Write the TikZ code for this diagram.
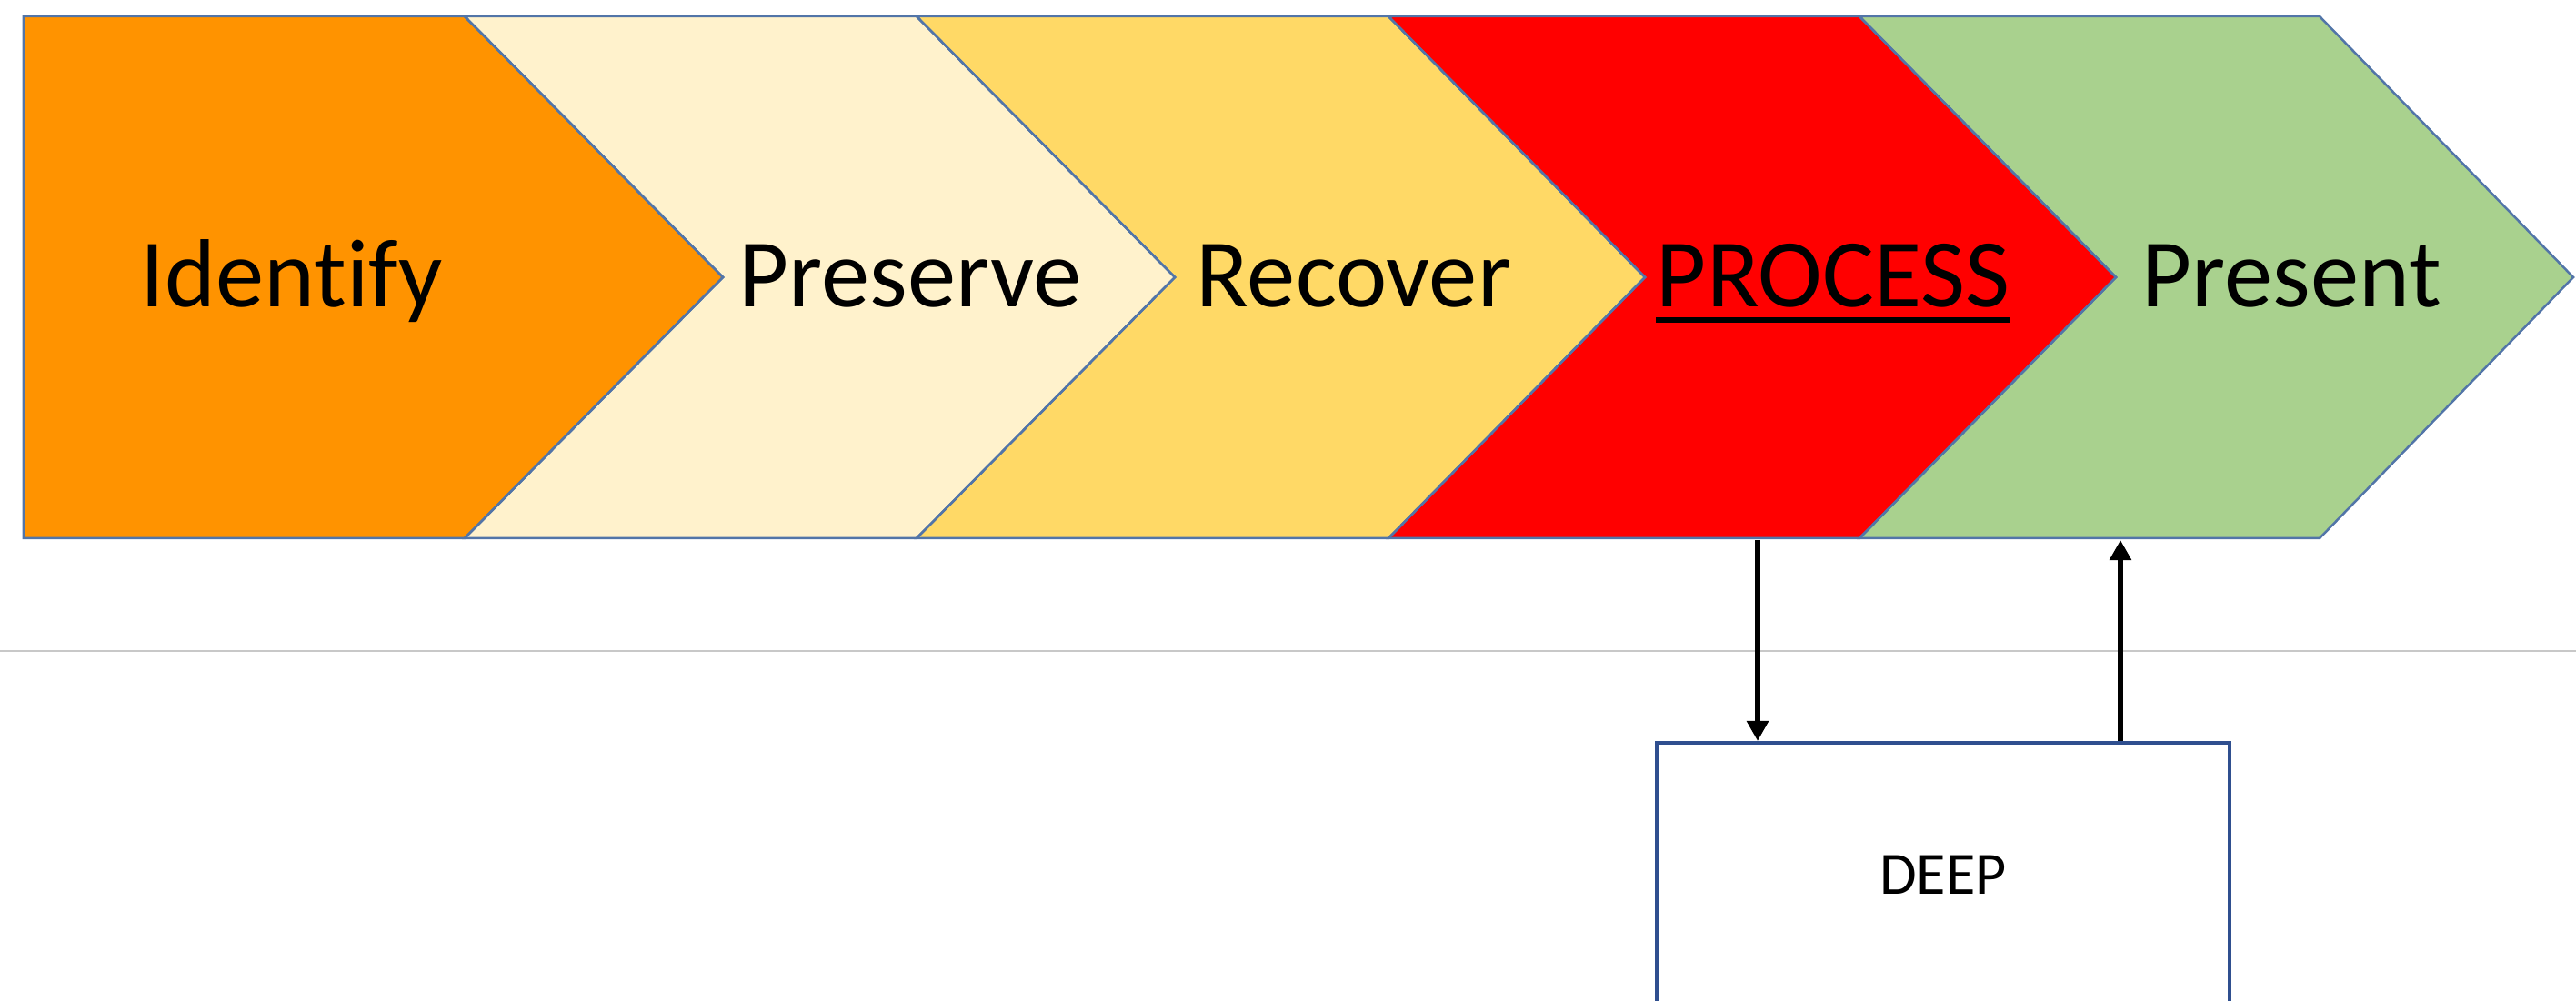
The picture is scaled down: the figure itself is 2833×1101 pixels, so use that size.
\documentclass[tikz,border=0pt]{standalone}
\usepackage{fontspec}
\setmainfont{Carlito}[Ligatures={NoCommon}]
\usetikzlibrary{arrows.meta}
\definecolor{cOrange}{HTML}{FF9300}
\definecolor{cCream}{HTML}{FFF2CC}
\definecolor{cGold}{HTML}{FFD966}
\definecolor{cRed}{HTML}{FF0000}
\definecolor{cGreen}{HTML}{A9D18E}
\definecolor{cEdge}{HTML}{5275A8}
\definecolor{cBox}{HTML}{2F4F8F}
\definecolor{cRule}{HTML}{C8C8C8}
\tikzset{
  chev/.style={draw=cEdge, line width=0.025cm, line join=miter},
  lbl/.style={anchor=base, inner sep=0pt, font=\fontsize{30.3}{36}\selectfont, text=black},
  conn/.style={line width=0.065cm, -{Triangle[length=0.22cm,width=0.23cm]}},
  deepbox/.style={draw=cBox, line width=0.04cm, fill=white, minimum width=6.3cm, minimum height=2.9cm, inner sep=0pt, font=\fontsize{18.8}{22}\selectfont}
}
\begin{document}
\begin{tikzpicture}[x=0.01cm, y=-0.01cm]
\useasboundingbox (0,0) rectangle (2833,1101);
\clip (0,0) rectangle (2833,1101);
% grey separator rule
\draw[cRule, line width=0.02cm] (0,716) -- (2833,716);
% chevrons
\fill[cOrange] (26,18) -- (511,18) -- (795,305) -- (511,592) -- (26,592) -- cycle;
\fill[cCream] (511,18) -- (1008,18) -- (1292,305) -- (1008,592) -- (511,592) -- (795,305) -- cycle;
\fill[cGold] (1008,18) -- (1527,18) -- (1809,305) -- (1527,592) -- (1008,592) -- (1292,305) -- cycle;
\fill[cRed] (1527,18) -- (2045,18) -- (2327,305) -- (2045,592) -- (1527,592) -- (1809,305) -- cycle;
\fill[cGreen] (2045,18) -- (2551,18) -- (2830,305) -- (2551,592) -- (2045,592) -- (2327,305) -- cycle;
\draw[chev] (26,18) -- (511,18) -- (795,305) -- (511,592) -- (26,592) -- cycle;
\draw[chev] (511,18) -- (1008,18) -- (1292,305) -- (1008,592) -- (511,592) -- (795,305) -- cycle;
\draw[chev] (1008,18) -- (1527,18) -- (1809,305) -- (1527,592) -- (1008,592) -- (1292,305) -- cycle;
\draw[chev] (1527,18) -- (2045,18) -- (2327,305) -- (2045,592) -- (1527,592) -- (1809,305) -- cycle;
\draw[chev] (2045,18) -- (2551,18) -- (2830,305) -- (2551,592) -- (2045,592) -- (2327,305) -- cycle;
% labels
\node[lbl] (identify) at (321,338) {Identify};
\node[lbl] (preserve) at (1001,338) {Preserve};
\node[lbl] (recover) at (1489,338) {Recover};
\node[lbl] (process) at (2016,338) {PROCESS};
\node[lbl] (present) at (2520,338) {Present};
\draw[line width=0.06cm] ([yshift=-0.14cm]process.base west) -- ([yshift=-0.14cm]process.base east);
% DEEP box
\node[deepbox, anchor=north] (deep) at (2137,815) {DEEP};
% connectors
\coordinate (procbot) at (1933,594);
\coordinate (presbot) at (2332,594);
\draw[conn] (procbot) -- (procbot |- deep.north);
\draw[conn] (presbot |- deep.north) -- (presbot);
\end{tikzpicture}
\end{document}
